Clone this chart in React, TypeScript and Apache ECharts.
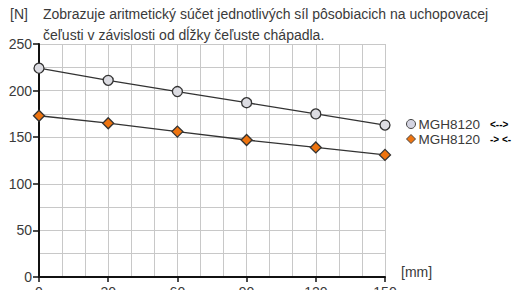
import React, { useEffect, useRef } from "react";
import * as echarts from "echarts";

const xCats = [0, 30, 60, 90, 120, 150];
const openValues = [224, 211, 199, 187, 175, 163];
const closeValues = [173, 165, 156, 147, 139, 131];
const seriesNames = ["MGH8120 <-->", "MGH8120 -> <-"];
const arrowLabels = ["<-->", "-> <-"];
const titleLines = [
  "Zobrazuje aritmetický súčet jednotlivých síl pôsobiacich na uchopovacej",
  "čeľusti v závislosti od dĺžky čeľuste chápadla.",
];

const FONT = '"Liberation Sans", Arial, Helvetica, sans-serif';
const TXT = "#3a3a3a";

export default function App() {
  const ref = useRef<HTMLDivElement>(null);
  useEffect(() => {
    if (!ref.current) return;
    const chart = echarts.init(ref.current, undefined, { renderer: "svg" });
    const axisLine = { show: true, lineStyle: { color: "#111", width: 2 } };
    chart.setOption({
      animation: false,
      textStyle: { fontFamily: FONT },
      grid: { left: 39, right: 132, top: 44, bottom: 13, containLabel: false, outerBoundsMode: "none" },
      xAxis: {
        type: "value",
        min: 0,
        max: 150,
        interval: 30,
        axisLine,
        axisTick: { show: true, length: 5, lineStyle: { color: "#111", width: 1.5 } },
        axisLabel: { color: TXT, fontSize: 14, margin: 8, fontFamily: FONT },
        splitLine: { show: true, lineStyle: { color: "#c8c8c8", width: 1 } },
        minorTick: { show: false, splitNumber: 3 },
        minorSplitLine: { show: true, lineStyle: { color: "#c8c8c8", width: 1 } },
      },
      yAxis: {
        type: "value",
        min: 0,
        max: 250,
        interval: 50,
        axisLine,
        axisTick: { show: true, length: 6, lineStyle: { color: "#111", width: 1.5 } },
        axisLabel: { color: TXT, fontSize: 14, margin: 7, fontFamily: FONT },
        splitLine: { show: true, lineStyle: { color: "#c8c8c8", width: 1 } },
        minorTick: { show: false, splitNumber: 2 },
        minorSplitLine: { show: true, lineStyle: { color: "#c8c8c8", width: 1 } },
      },
      legend: {
        orient: "vertical",
        left: 401,
        top: 112,
        itemGap: 1,
        itemWidth: 9,
        itemHeight: 9,
        data: [
          { name: seriesNames[0], icon: "circle", itemStyle: { color: "#d4d4e2", borderColor: "#444", borderWidth: 1 } },
          { name: seriesNames[1], icon: "diamond", itemStyle: { color: "#ee7410", borderColor: "#444", borderWidth: 1 } },
        ],
        formatter: (name: string) => {
          const i = seriesNames.indexOf(name);
          return "{a|MGH8120}   {b|" + arrowLabels[i] + "}";
        },
        textStyle: {
          padding: [0, 0, 0, -2],
          rich: {
            a: { fontSize: 13.5, color: TXT, fontFamily: FONT },
            b: { fontSize: 10, color: "#000", fontWeight: "bold", fontFamily: FONT },
          },
        },
      },
      series: [
        {
          name: seriesNames[0],
          type: "line",
          data: xCats.map((x, i) => [x, openValues[i]]),
          symbol: "circle",
          symbolSize: 10,
          lineStyle: { color: "#333", width: 1.3 },
          itemStyle: { color: "#dcdce2", borderColor: "#333", borderWidth: 1.3 },
          z: 3,
        },
        {
          name: seriesNames[1],
          type: "line",
          data: xCats.map((x, i) => [x, closeValues[i]]),
          symbol: "diamond",
          symbolSize: 11,
          lineStyle: { color: "#333", width: 1.3 },
          itemStyle: { color: "#ee7410", borderColor: "#333", borderWidth: 1.3 },
          z: 3,
        },
      ],
      graphic: [
        { type: "text", left: 10, top: 7, style: { text: "[N]", fontSize: 14, fill: TXT, fontFamily: FONT } },
        { type: "text", left: 43, top: 7, style: { text: titleLines[0], fontSize: 14, fill: TXT, fontFamily: FONT } },
        { type: "text", left: 43, top: 28, style: { text: titleLines[1], fontSize: 14, fill: TXT, fontFamily: FONT } },
        { type: "text", left: 401, top: 265, style: { text: "[mm]", fontSize: 14, fill: TXT, fontFamily: FONT } },
      ],
    });
    return () => chart.dispose();
  }, []);
  return <div ref={ref} style={{ width: 517, height: 290, position: "absolute", left: 0, top: 0 }} />;
}
